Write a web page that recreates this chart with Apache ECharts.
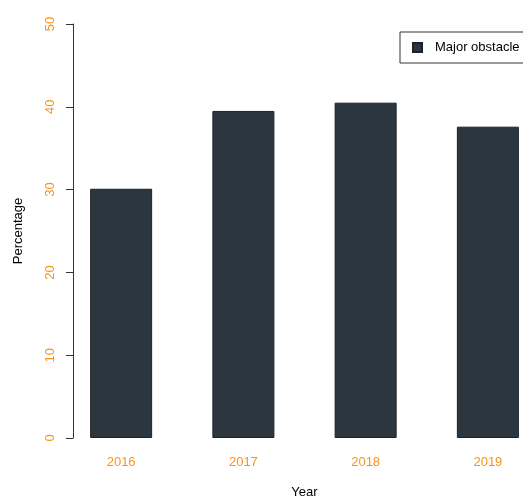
<!DOCTYPE html>
<html>
<head>
<meta charset="utf-8">
<script src="https://cdn.jsdelivr.net/npm/echarts@6/dist/echarts.min.js"></script>
<style>
  html, body { margin: 0; padding: 0; background: #fff; }
  #chart { width: 523px; height: 500px; }
</style>
</head>
<body>
<div id="chart"></div>
<script>
const years = ['2016', '2017', '2018', '2019']
const majorObstacle = [30.1, 39.5, 40.5, 37.6]
const yTicks = { min: 0, max: 50, interval: 10 }

const orange = '#f7941d'
const font = 'Liberation Sans, Arial, sans-serif'

const chart = echarts.init(document.getElementById('chart'))
chart.setOption({
  backgroundColor: '#fff',
  animation: false,
  textStyle: { fontFamily: font },
  grid: { left: 60, right: -26, top: 24, bottom: 62, containLabel: false, outerBoundsMode: 'none' },
  legend: {
    left: 400,
    top: 32,
    padding: [9, 30, 9, 12],
    borderColor: '#333',
    borderWidth: 1,
    borderRadius: 0,
    itemWidth: 9,
    itemHeight: 9,
    itemGap: 10,
    icon: 'rect',
    textStyle: { fontSize: 13, color: '#000', fontFamily: font, padding: [0, 0, 0, 8] },
    data: ['Major obstacle'],
  },
  xAxis: {
    type: 'category',
    data: years,
    name: 'Year',
    nameLocation: 'middle',
    nameGap: 48,
    nameTextStyle: { fontSize: 13, color: '#000' },
    axisLine: { show: false },
    axisTick: { show: false },
    axisLabel: { color: orange, fontSize: 13, margin: 18 },
  },
  yAxis: {
    type: 'value',
    min: yTicks.min,
    max: yTicks.max,
    interval: yTicks.interval,
    offset: -13,
    name: 'Percentage',
    nameLocation: 'middle',
    nameGap: 48,
    nameTextStyle: { fontSize: 13, color: '#000' },
    axisLine: { show: true, lineStyle: { color: '#333', width: 1 } },
    axisTick: { show: true, length: 7, lineStyle: { color: '#333' } },
    axisLabel: { color: orange, fontSize: 13, rotate: 90, margin: 16 },
    splitLine: { show: false },
  },
  series: [
    {
      name: 'Major obstacle',
      type: 'bar',
      data: majorObstacle,
      barWidth: 62,
      itemStyle: { color: '#2b363e', borderColor: '#1c2228', borderWidth: 1 },
    },
  ],
})
</script>
</body>
</html>
